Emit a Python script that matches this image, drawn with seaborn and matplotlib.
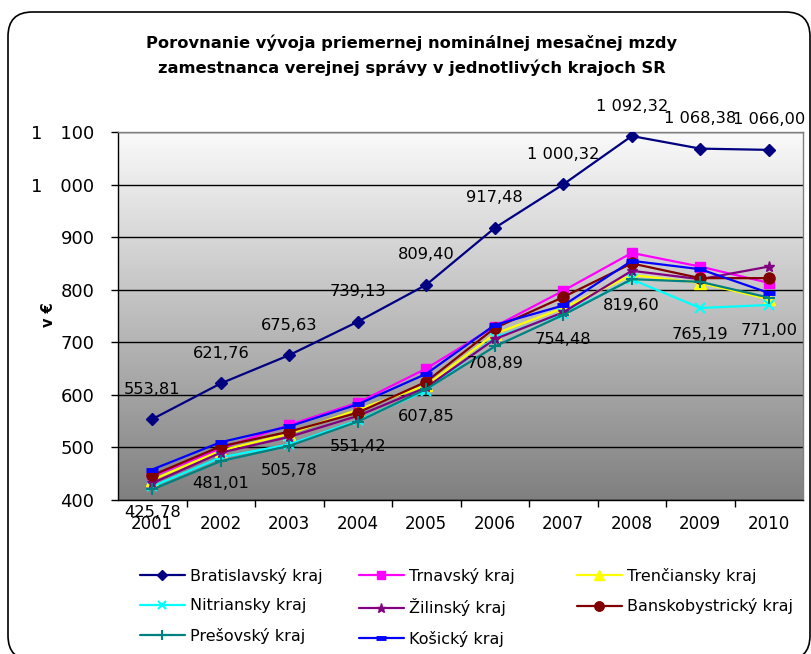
import numpy as np
import pandas as pd
import matplotlib
matplotlib.use("Agg")
import matplotlib.pyplot as plt
from matplotlib.patches import FancyBboxPatch
from matplotlib.lines import Line2D
import seaborn as sns

years = [2001, 2002, 2003, 2004, 2005, 2006, 2007, 2008, 2009, 2010]
bratislavsky = [553.81, 621.76, 675.63, 739.13, 809.40, 917.48, 1000.32, 1092.32, 1068.38, 1066.00]
trnavsky = [445, 498, 543, 585, 650, 730, 798, 870, 844, 813]
trenciansky = [438, 494, 526, 572, 618, 716, 765, 828, 813, 782]
nitriansky = [425.78, 481.01, 505.78, 551.42, 607.85, 708.89, 754.48, 819.60, 765.19, 771.00]
zilinsky = [432, 490, 520, 560, 614, 706, 757, 836, 820, 844]
banskobystricky = [447, 502, 530, 566, 625, 727, 786, 850, 822, 822]
presovsky = [420, 474, 503, 549, 611, 692, 752, 820, 815, 785]
kosicky = [458, 510, 540, 582, 640, 733, 770, 855, 839, 794]

series_names = ["Bratislavský kraj", "Trnavský kraj", "Trenčiansky kraj", "Nitriansky kraj",
                "Žilinský kraj", "Banskobystrický kraj", "Prešovský kraj", "Košický kraj"]
series_values = [bratislavsky, trnavsky, trenciansky, nitriansky,
                 zilinsky, banskobystricky, presovsky, kosicky]
y_ticks = [400, 500, 600, 700, 800, 900, 1000, 1100]

colors = ["#000080", "#FF00FF", "#FFFF00", "#00FFFF", "#800080", "#800000", "#008080", "#0000FF"]
markers = ["D", "s", "^", "x", "*", "o", "+", "_"]
msizes = [6, 7, 8, 7, 8, 8, 9, 8]
mews = [1, 1, 1, 1.5, 1, 1, 1.5, 3.5]

sns.set_theme(style="white")
plt.rcParams['font.family'] = ['DejaVu Sans']
plt.rcParams['text.color'] = 'black'
plt.rcParams['axes.labelcolor'] = 'black'
plt.rcParams['xtick.color'] = 'black'
plt.rcParams['ytick.color'] = 'black'

W, H = 812, 654
fig = plt.figure(figsize=(W / 100, H / 100), dpi=100)

# outer rounded frame
frame = FancyBboxPatch((8 / W, 1 - 660 / H), (810 - 8) / W, (660 - 12) / H,
                       boxstyle="round,pad=0,rounding_size=0.03", transform=fig.transFigure,
                       fill=False, edgecolor="black", linewidth=1.2, mutation_aspect=W / H)
fig.patches.append(frame)

left, right, top, bottom = 118, 803, 132, 500
ax = fig.add_axes([left / W, 1 - bottom / H, (right - left) / W, (bottom - top) / H])

# gradient background
grad = np.linspace(0, 1, 256).reshape(-1, 1)
ax.imshow(grad, extent=[0, 1, 0, 1], transform=ax.transAxes, aspect="auto",
          cmap=matplotlib.colors.LinearSegmentedColormap.from_list("g", ["#fafafa", "#808080"]),
          zorder=0)

df = pd.DataFrame({"year": np.repeat(years, len(series_names)),
                   "kraj": series_names * len(years),
                   "value": [series_values[j][i] for i in range(len(years)) for j in range(len(series_names))]})

for name, c, m, ms, mew in zip(series_names, colors, markers, msizes, mews):
    sub = df[df["kraj"] == name]
    sns.lineplot(data=sub, x="year", y="value", ax=ax, color=c, marker=m, markersize=ms,
                 markeredgewidth=mew, markeredgecolor=c, markerfacecolor=c, linewidth=1.6,
                 legend=False, zorder=3)

ax.set_xlim(2000.5, 2010.5)
ax.set_ylim(400, 1100)
ax.set_yticks(y_ticks)
for yv in y_ticks:
    ax.axhline(yv, color="black", linewidth=1.0, zorder=1)

def fmt(v):
    s = f"{v:,.2f}"
    return s.replace(",", " ").replace(".", ",")

def fmt_int(v):
    return f"{int(v):,}".replace(",", "\u2003")

ax.set_yticklabels([fmt_int(v) for v in y_ticks], fontsize=13)
ax.set_xticks(years)
ax.set_xticklabels([str(y) for y in years], fontsize=12)
ax.set_xticks([y + 0.5 for y in years[:-1]], minor=True)
ax.tick_params(axis="x", which="major", length=0, pad=11)
ax.tick_params(axis="x", which="minor", length=5, width=1, color="black", direction="out", bottom=True)
ax.tick_params(axis="y", length=5, width=1, color="black", direction="out", left=True, pad=12)
for t in ax.get_yticklabels() + ax.get_xticklabels():
    t.set_color("black")

for side in ["left", "bottom"]:
    ax.spines[side].set_color("black")
    ax.spines[side].set_linewidth(1.0)
for side in ["top", "right"]:
    ax.spines[side].set_color("#808080")
    ax.spines[side].set_linewidth(1.0)

ax.set_xlabel("")
ax.set_ylabel("v €", fontsize=10.5, fontweight="bold", color="black")
ax.yaxis.set_label_coords((56 - left) / (right - left), (bottom - 315) / (bottom - top))

for x, v in zip(years, bratislavsky):
    ax.annotate(fmt(v), (x, v), textcoords="offset pixels", xytext=(0, 30), ha="center",
                va="center", fontsize=11.7, color="black", zorder=5, annotation_clip=False)
for x, v in zip(years, nitriansky):
    ax.annotate(fmt(v), (x, v), textcoords="offset pixels", xytext=(0, -26), ha="center",
                va="center", fontsize=11.7, color="black", zorder=5, annotation_clip=False)

fig.text(412 / W, 1 - 43 / H, "Porovnanie vývoja priemernej nominálnej mesačnej mzdy",
         ha="center", va="center", fontsize=11.7, fontweight="bold", color="black")
fig.text(412 / W, 1 - 68 / H, "zamestnanca verejnej správy v jednotlivých krajoch SR",
         ha="center", va="center", fontsize=11.7, fontweight="bold", color="black")

handles = [Line2D([], [], color=c, marker=m, markersize=ms * 0.85, markeredgewidth=mew,
                  markerfacecolor=c, markeredgecolor=c, linewidth=1.6)
           for c, m, ms, mew in zip(colors, markers, msizes, mews)]
columns = [[0, 3, 6], [1, 4, 7], [2, 5]]
col_x = [140, 359, 577]
for idxs, cx in zip(columns, col_x):
    leg = fig.legend([handles[i] for i in idxs], [series_names[i] for i in idxs],
                     loc="upper left", bbox_to_anchor=(cx / W, 1 - 568 / H),
                     frameon=False, fontsize=11.5, handlelength=2.8, handletextpad=0.3,
                     labelspacing=0.9, borderaxespad=0, borderpad=0, labelcolor="black")

fig.savefig("out.png", dpi=100)
